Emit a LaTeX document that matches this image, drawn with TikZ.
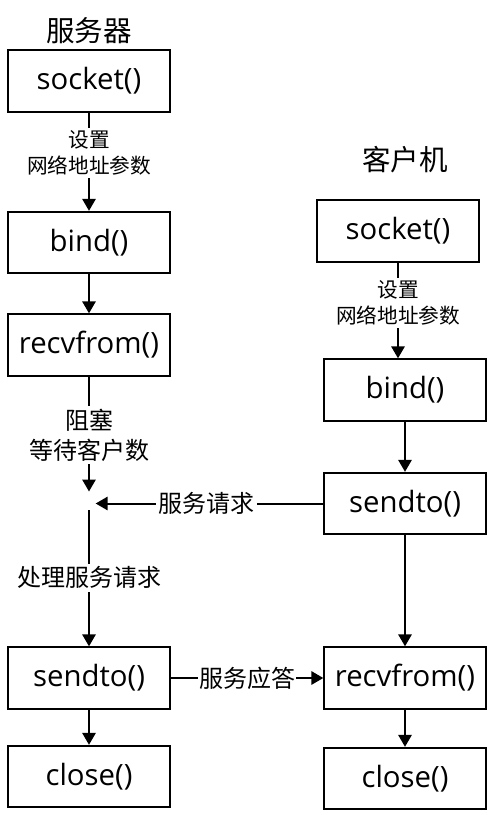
\documentclass[tikz,border=0pt]{standalone}
\usepackage{fontspec}
\setmainfont{Open Sans}
\newfontfamily\cjk{Noto Sans CJK SC}
\usetikzlibrary{arrows.meta,calc}
\begin{document}
\begin{tikzpicture}[x=0.75pt,y=-0.75pt,
  box/.style={draw,line width=1.5pt,minimum width=121pt,minimum height=46pt,inner sep=0pt,font=\fontsize{22}{26}\selectfont},
  title/.style={font=\cjk\fontsize{21.4}{26}\selectfont},
  small/.style={fill=white,inner sep=2pt,align=center,font=\cjk\fontsize{15.5}{19.5}\selectfont},
  mid/.style={fill=white,inner sep=2pt,align=center,font=\cjk\fontsize{18}{22.5}\selectfont},
  arr/.style={line width=1.5pt,-{Triangle[length=9pt,width=10pt]}},
  ln/.style={line width=1.5pt}]
\useasboundingbox (0,0) rectangle (495,823);
% server
\node[title] (ts) at (89,31) {服务器};
\node[box] (lsock) at (89,81) {socket()};
\node[box] (lbind) at (89,242.5) {bind()};
\node[box] (lrecv) at (89,345) {recvfrom()};
\node[box] (lsend) at (89,678) {sendto()};
\node[box] (lclose) at (89,776.5) {close()};
% client
\node[title] (tc) at (405,160) {客户机};
\node[box] (rsock) at (398,231) {socket()};
\node[box] (rbind) at (405,390) {bind()};
\node[box] (rsend) at (405,503.5) {sendto()};
\node[box] (rrecv) at (405,678) {recvfrom()};
\node[box] (rclose) at (405,778.5) {close()};
\coordinate (J) at (89,503.5);
% server connectors
\draw[arr] (lsock) -- node[small,pos=0.41] {设置\\网络地址参数} (lbind);
\draw[arr] (lbind) -- (lrecv);
\draw[arr,shorten >=12pt*0.75] (lrecv) -- node[mid,pos=0.46] {阻塞\\等待客户数} (J);
\draw[arr,shorten >=5pt] (rsend.west) -- node[mid,pos=0.5] {服务请求} (J);
\draw[arr,shorten <=5pt] (J) -- node[mid,pos=0.52] {处理服务请求} (lsend);
\draw[arr] (lsend) -- (lclose);
\draw[arr] (lsend.east) -- node[mid,inner xsep=1pt] {服务应答} (rrecv.west);
% client connectors
\draw[arr] (rsock.south) -- node[small,pos=0.42] {设置\\网络地址参数} (rsock.south |- rbind.north);
\draw[arr] (rbind) -- (rsend);
\draw[arr] (rsend) -- (rrecv);
\draw[arr] (rrecv) -- (rclose);
\end{tikzpicture}
\end{document}
